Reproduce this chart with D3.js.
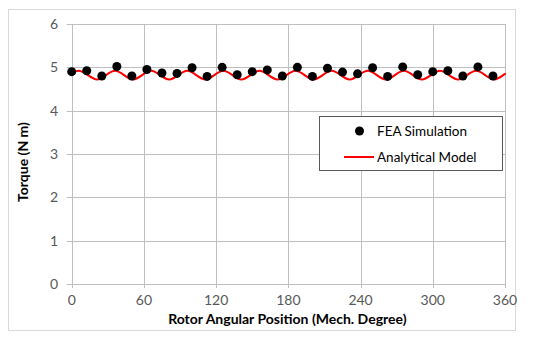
<!DOCTYPE html>
<html><head><meta charset="utf-8">
<script src="https://cdn.jsdelivr.net/npm/d3@7/dist/d3.min.js"></script>
<style>
body{margin:0;background:#fff;}
text{font-family:Lato,"Open Sans",sans-serif;}
</style></head>
<body><svg id="c" width="550" height="340"></svg>
<script>
const feaX = [0,12.5,25,37.5,50,62.5,75,87.5,100,112.5,125,137.5,150,162.5,175,187.5,200,212.5,225,237.5,250,262.5,275,287.5,300,312.5,325,337.5,350];
const feaY = [4.90,4.92,4.80,5.02,4.80,4.95,4.87,4.86,4.99,4.79,5.00,4.83,4.90,4.94,4.80,5.00,4.79,4.98,4.89,4.85,4.99,4.79,5.01,4.83,4.90,4.92,4.80,5.01,4.80];
const modelX = [0,6,13.5,21,28.5,36,43.5,51,58.5,66,73.5,81,88.5,96,103.5,111,118.5,126,133.5,141,148.5,156,163.5,171,178.5,186,193.5,201,208.5,216,223.5,231,238.5,246,253.5,261,268.5,276,283.5,291,298.5,306,313.5,321,328.5,336,343.5,351,358.5,360];
const modelY = [4.86,4.92,4.82,4.72,4.82,4.92,4.82,4.72,4.82,4.92,4.82,4.72,4.82,4.92,4.82,4.72,4.82,4.92,4.82,4.72,4.82,4.92,4.82,4.72,4.82,4.92,4.82,4.72,4.82,4.92,4.82,4.72,4.82,4.92,4.82,4.72,4.82,4.92,4.82,4.72,4.82,4.92,4.82,4.72,4.82,4.92,4.82,4.72,4.82,4.85];
const xTicks = [0,60,120,180,240,300,360];
const yTicks = [0,1,2,3,4,5,6];
const xTitle = "Rotor Angular Position (Mech. Degree)";
const yTitle = "Torque (N m)";
const legendLabels = ["FEA Simulation","Analytical Model"];

const svg = d3.select("#c");
const L=71.7, R=505, T=24, B=284;
const x = d3.scaleLinear().domain([0,360]).range([L,R]);
const y = d3.scaleLinear().domain([0,6]).range([B,T]);
const grid="#bfbfbf";

// outer frame
svg.append("rect").attr("x",8.5).attr("y",9.5).attr("width",507).attr("height",321)
  .attr("fill","#fff").attr("stroke","#d9d9d9");

// gridlines
svg.append("g").selectAll("line").data(yTicks).join("line")
  .attr("x1",L-5).attr("x2",R).attr("y1",d=>Math.round(y(d))+0.5).attr("y2",d=>Math.round(y(d))+0.5)
  .attr("stroke",grid);
svg.append("g").selectAll("line").data(xTicks).join("line")
  .attr("y1",T).attr("y2",B+4).attr("x1",d=>Math.round(x(d))+0.5).attr("x2",d=>Math.round(x(d))+0.5)
  .attr("stroke",grid);

// tick labels
svg.append("g").selectAll("text").data(yTicks).join("text")
  .attr("x",58).attr("y",d=>y(d)).attr("dy","0.35em").attr("text-anchor","end")
  .attr("font-size",14).attr("fill","#595959").text(d=>d);
svg.append("g").selectAll("text").data(xTicks).join("text")
  .attr("x",d=>x(d)).attr("y",300).attr("dy","0.35em").attr("text-anchor","middle")
  .attr("font-size",14).attr("fill","#595959").text(d=>d);

// titles
svg.append("text").attr("x",(L+R)/2-1).attr("y",319).attr("dy","0.35em").attr("text-anchor","middle")
  .attr("font-size",14).attr("font-weight","bold").attr("fill","#000").text(xTitle);
svg.append("text").attr("transform",`translate(23,${(T+B)/2+8}) rotate(-90)`).attr("dy","0.35em")
  .attr("text-anchor","middle").attr("font-size",14).attr("font-weight","bold").attr("fill","#000").text(yTitle);

// model line
const line = d3.line().x((d,i)=>x(modelX[i])).y(d=>y(d)).curve(d3.curveNatural);
svg.append("path").attr("d",line(modelY)).attr("fill","none").attr("stroke","#ff0000").attr("stroke-width",2);

// FEA points
svg.append("g").selectAll("circle").data(feaY).join("circle")
  .attr("cx",(d,i)=>x(feaX[i])).attr("cy",d=>y(d)).attr("r",4.5).attr("fill","#000");

// legend
const lg = svg.append("g");
lg.append("rect").attr("x",319.5).attr("y",116.5).attr("width",183).attr("height",54)
  .attr("fill","#fff").attr("stroke","#595959");
lg.append("circle").attr("cx",359.5).attr("cy",131).attr("r",4.5).attr("fill","#000");
lg.append("line").attr("x1",344).attr("x2",374).attr("y1",157).attr("y2",157).attr("stroke","#ff0000").attr("stroke-width",2);
lg.append("text").attr("x",377).attr("y",131).attr("dy","0.35em").attr("font-size",13.5).attr("fill","#000").text(legendLabels[0]);
lg.append("text").attr("x",377).attr("y",157).attr("dy","0.35em").attr("font-size",13.5).attr("fill","#000").text(legendLabels[1]);
</script></body></html>
